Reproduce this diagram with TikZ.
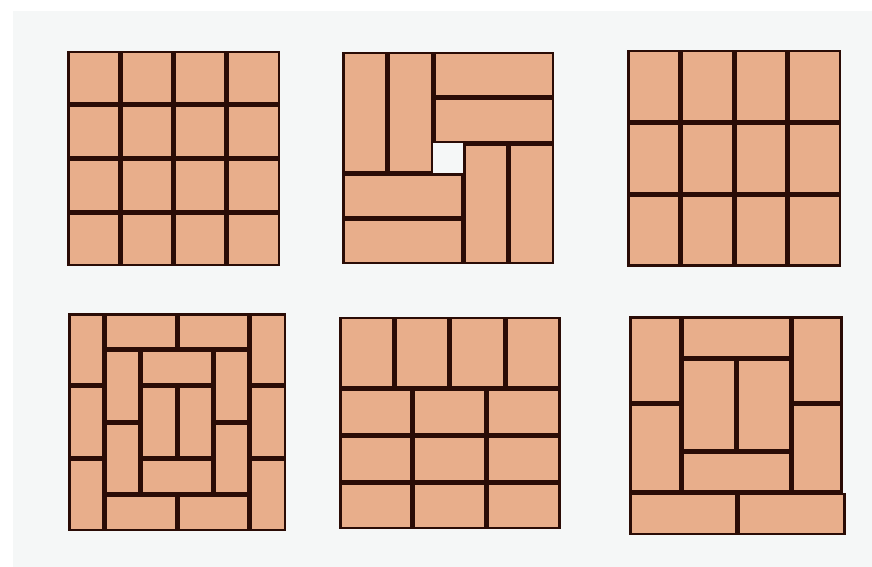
\documentclass[tikz,border=0pt]{standalone}
\usepackage{tikz}
\definecolor{bgcol}{HTML}{F5F7F7}
\definecolor{tilefill}{HTML}{E8AE8B}
\definecolor{tileline}{HTML}{2A0C06}
\tikzset{tilestyle/.style={fill=tilefill,draw=tileline,line width=2.5pt,line join=miter}}
\newcommand\tilebox[4]{\draw[tilestyle] ({#1+1.25},{#2+1.25}) rectangle ({#3-1.25},{#4-1.25});}
\begin{document}
\begin{tikzpicture}[x=1pt,y=-1pt]
\useasboundingbox (0,0) rectangle (872,567);
\fill[white] (0,0) rectangle (872,567);
\fill[bgcol] (13,11) rectangle (872,567);
% Panel 1: 4x4 squares
\foreach \i in {0,...,3}{\foreach \j in {0,...,3}{
  \tilebox{67+\i*53.25}{51+\j*53.75}{67+(\i+1)*53.25}{51+(\j+1)*53.75}
}}
% Panel 2: pinwheel
\begin{scope}[shift={(342,52)}]
\def\S{45.5}\def\L{121}\def\W{212}
\tilebox{0}{0}{\S}{\L}
\tilebox{\S}{0}{2*\S}{\L}
\tilebox{2*\S}{0}{\W}{\S}
\tilebox{2*\S}{\S}{\W}{2*\S}
\tilebox{\L}{2*\S}{\L+\S}{\W}
\tilebox{\L+\S}{2*\S}{\W}{\W}
\tilebox{0}{\L}{\L}{\L+\S}
\tilebox{0}{\L+\S}{\L}{\W}
\end{scope}
% Panel 3: 4x3 vertical bricks
\foreach \i in {0,...,3}{\foreach \j in {0,...,2}{
  \tilebox{627.3+\i*53.5}{50+\j*72.2}{627.3+(\i+1)*53.5}{50+(\j+1)*72.2}
}}
% Panel 4: concentric rings
\begin{scope}[shift={(68.3,313.3)}]
\def\u{36.3}
\tilebox{0}{0}{\u}{2*\u}
\tilebox{0}{2*\u}{\u}{4*\u}
\tilebox{0}{4*\u}{\u}{6*\u}
\tilebox{5*\u}{0}{6*\u}{2*\u}
\tilebox{5*\u}{2*\u}{6*\u}{4*\u}
\tilebox{5*\u}{4*\u}{6*\u}{6*\u}
\tilebox{\u}{0}{3*\u}{\u}
\tilebox{3*\u}{0}{5*\u}{\u}
\tilebox{\u}{5*\u}{3*\u}{6*\u}
\tilebox{3*\u}{5*\u}{5*\u}{6*\u}
\tilebox{\u}{\u}{2*\u}{3*\u}
\tilebox{\u}{3*\u}{2*\u}{5*\u}
\tilebox{4*\u}{\u}{5*\u}{3*\u}
\tilebox{4*\u}{3*\u}{5*\u}{5*\u}
\tilebox{2*\u}{\u}{4*\u}{2*\u}
\tilebox{2*\u}{4*\u}{4*\u}{5*\u}
\tilebox{2*\u}{2*\u}{3*\u}{4*\u}
\tilebox{3*\u}{2*\u}{4*\u}{4*\u}
\end{scope}
% Panel 5: one row of vertical bricks, three rows of horizontal bricks
\begin{scope}[shift={(339,316.7)}]
\foreach \i in {0,...,3}{\tilebox{\i*55.4}{0}{(\i+1)*55.4}{71.6}}
\foreach \i in {0,...,2}{\foreach \j in {0,...,2}{
  \tilebox{\i*73.9}{71.6+\j*47}{(\i+1)*73.9}{71.6+(\j+1)*47}
}}
\end{scope}
% Panel 6
\tilebox{629.3}{316}{681.3}{403.5}
\tilebox{629.3}{403.5}{681.3}{492.7}
\tilebox{791}{316}{842.7}{403.5}
\tilebox{791}{403.5}{842.7}{492.7}
\tilebox{681.3}{316}{791}{358.3}
\tilebox{681.3}{358.3}{736.5}{451.7}
\tilebox{736.5}{358.3}{791}{451.7}
\tilebox{681.3}{451.7}{791}{492.7}
\tilebox{629.3}{492.7}{737.3}{535}
\tilebox{737.3}{492.7}{845.5}{535}
\end{tikzpicture}
\end{document}
